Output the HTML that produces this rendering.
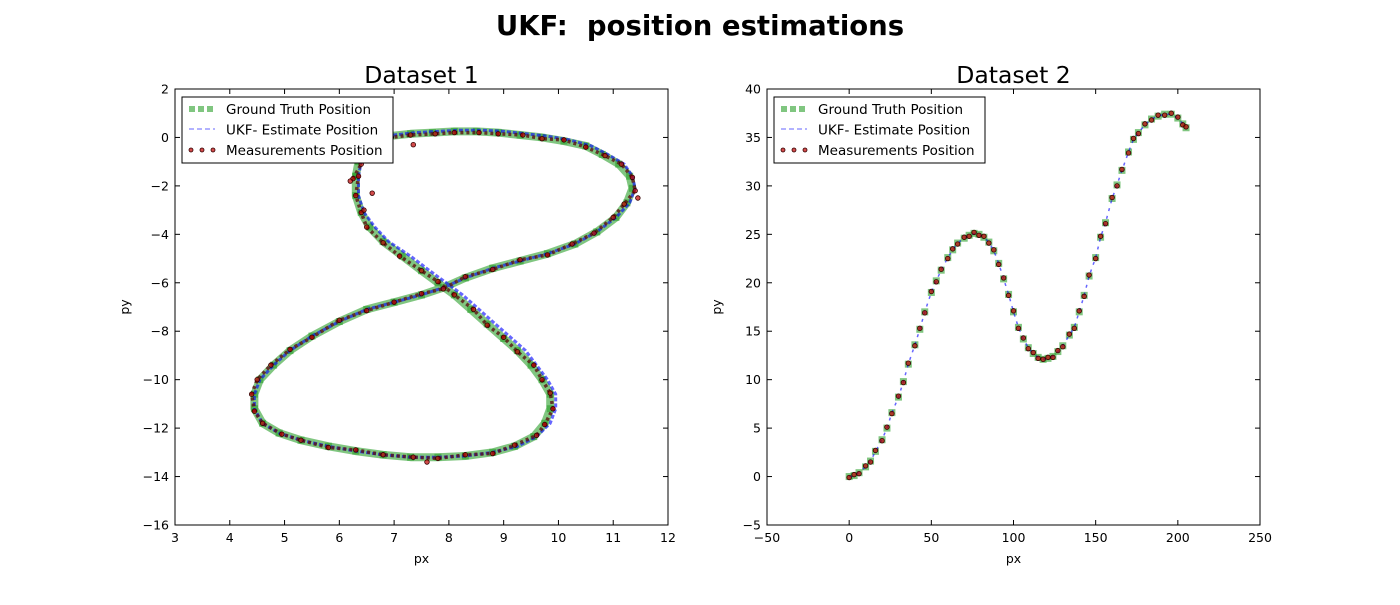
<!DOCTYPE html>
<html><head><meta charset="utf-8"><style>
body{margin:0;background:#fff;}
svg text{font-family:"DejaVu Sans","Liberation Sans",sans-serif;}
</style></head><body>
<svg id="fig" width="1400" height="600" xmlns="http://www.w3.org/2000/svg">
<rect width="1400" height="600" fill="#fff"/>
<text x="700" y="35" text-anchor="middle" font-size="27.5" font-weight="bold" style="white-space:pre">UKF:&#160; position estimations</text>
<g id="p1"></g>
<g id="p2"></g>
</svg>
<script>
const gt1 = [[6.3,-1.6],[6.35,-1.0],[6.45,-0.5],[6.6,-0.15],[6.9,0.05],[7.3,0.15],[7.7,0.2],[8.1,0.25],[8.5,0.25],[8.9,0.2],[9.3,0.1],[9.7,0.0],[10.1,-0.15],[10.5,-0.35],[10.8,-0.7],[11.1,-1.1],[11.3,-1.6],[11.35,-2.1],[11.25,-2.7],[11.05,-3.3],[10.7,-3.9],[10.3,-4.4],[9.8,-4.8],[9.3,-5.1],[8.8,-5.4],[8.3,-5.8],[7.9,-6.2],[7.5,-6.5],[7.0,-6.8],[6.5,-7.1],[6.0,-7.6],[5.5,-8.2],[5.1,-8.8],[4.8,-9.4],[4.55,-10.0],[4.45,-10.6],[4.45,-11.2],[4.6,-11.8],[4.9,-12.2],[5.3,-12.5],[5.8,-12.75],[6.3,-12.95],[6.8,-13.1],[7.3,-13.2],[7.8,-13.2],[8.3,-13.15],[8.8,-13.0],[9.2,-12.75],[9.55,-12.35],[9.75,-11.8],[9.85,-11.2],[9.85,-10.6],[9.7,-10.0],[9.5,-9.4],[9.25,-8.8],[9.0,-8.3],[8.7,-7.7],[8.4,-7.1],[8.1,-6.5],[7.8,-6.0],[7.5,-5.5],[7.15,-4.9],[6.8,-4.3],[6.55,-3.7],[6.4,-3.1],[6.3,-2.4],[6.3,-1.6]];
const ukf1 = [[6.35,-1.6],[6.4,-1.0],[6.5,-0.4],[6.7,-0.05],[7.0,0.1],[7.4,0.2],[7.8,0.25],[8.2,0.3],[8.6,0.3],[9.0,0.25],[9.4,0.15],[9.8,0.05],[10.2,-0.1],[10.6,-0.35],[10.9,-0.7],[11.2,-1.1],[11.35,-1.6],[11.4,-2.1],[11.3,-2.7],[11.05,-3.3],[10.7,-3.9],[10.3,-4.4],[9.8,-4.8],[9.3,-5.1],[8.8,-5.4],[8.3,-5.8],[7.9,-6.2],[7.5,-6.5],[7.0,-6.8],[6.5,-7.1],[6.0,-7.6],[5.5,-8.2],[5.1,-8.8],[4.8,-9.4],[4.55,-10.0],[4.45,-10.6],[4.45,-11.2],[4.6,-11.8],[4.9,-12.2],[5.3,-12.5],[5.8,-12.75],[6.3,-12.95],[6.8,-13.1],[7.3,-13.2],[7.8,-13.2],[8.3,-13.15],[8.8,-13.0],[9.25,-12.75],[9.6,-12.35],[9.85,-11.8],[9.95,-11.2],[9.95,-10.6],[9.8,-10.0],[9.6,-9.4],[9.4,-8.8],[9.15,-8.3],[8.85,-7.7],[8.55,-7.1],[8.25,-6.5],[7.95,-6.0],[7.65,-5.5],[7.3,-4.9],[6.9,-4.3],[6.65,-3.7],[6.45,-3.1],[6.35,-2.4],[6.35,-1.6]];
const meas1 = [[6.25,-1.7],[6.4,-1.1],[6.5,-0.45],[6.6,-0.1],[6.95,0.0],[7.3,0.1],[7.75,0.15],[8.1,0.2],[8.55,0.2],[8.9,0.15],[9.35,0.1],[9.7,-0.05],[10.1,-0.1],[10.5,-0.4],[10.85,-0.75],[11.15,-1.1],[11.35,-1.65],[11.4,-2.2],[11.2,-2.75],[11.0,-3.3],[10.65,-3.95],[10.25,-4.4],[9.8,-4.85],[9.3,-5.05],[8.8,-5.45],[8.3,-5.75],[7.9,-6.25],[7.5,-6.45],[7.0,-6.8],[6.5,-7.15],[6.0,-7.55],[5.5,-8.25],[5.1,-8.75],[4.75,-9.4],[4.5,-10.0],[4.4,-10.6],[4.45,-11.3],[4.6,-11.8],[4.95,-12.25],[5.3,-12.5],[5.8,-12.8],[6.3,-12.9],[6.8,-13.1],[7.35,-13.2],[7.8,-13.25],[8.3,-13.1],[8.8,-13.05],[9.2,-12.7],[9.6,-12.3],[9.75,-11.85],[9.9,-11.2],[9.85,-10.55],[9.7,-10.0],[9.55,-9.4],[9.25,-8.85],[9.0,-8.25],[8.7,-7.75],[8.45,-7.1],[8.1,-6.5],[7.8,-5.95],[7.5,-5.5],[7.1,-4.9],[6.8,-4.35],[6.5,-3.7],[6.4,-3.1],[6.3,-2.4],[6.35,-1.6],[6.2,-1.8],[6.6,-2.3],[6.45,-3.0],[7.35,-0.3],[11.45,-2.5],[7.6,-13.4]];
const gt2 = [[0,0],[3,0.1],[6,0.4],[10,1],[13,1.6],[16,2.6],[20,3.8],[23,5],[26,6.6],[30,8.2],[33,9.8],[36,11.6],[40,13.6],[43,15.2],[46,17],[50,19],[53,20.2],[56,21.3],[60,22.6],[63,23.4],[66,24.1],[70,24.6],[73,24.9],[76,25.1],[79,25],[82,24.7],[85,24.2],[88,23.3],[91,22],[94,20.4],[97,18.8],[100,17],[103,15.4],[106,14.2],[109,13.3],[112,12.7],[115,12.3],[118,12.1],[121,12.2],[124,12.4],[127,12.9],[130,13.5],[134,14.6],[137,15.4],[140,17],[143,18.7],[146,20.7],[150,22.6],[153,24.7],[156,26.2],[160,28.7],[163,30.1],[166,31.6],[170,33.5],[173,34.8],[176,35.5],[180,36.3],[184,36.9],[188,37.2],[192,37.4],[196,37.4],[200,37],[203,36.4],[205,36]];
const ukf2 = gt2.map(p=>[p[0],p[1]]);
const meas2 = [[0,-0.1],[3,0.2],[6,0.3],[10,1.1],[13,1.5],[16,2.7],[20,3.7],[23,5.1],[26,6.5],[30,8.3],[33,9.7],[36,11.7],[40,13.5],[43,15.3],[46,16.9],[50,19.1],[53,20.1],[56,21.4],[60,22.5],[63,23.5],[66,24],[70,24.7],[73,24.8],[76,25.2],[79,24.9],[82,24.8],[85,24.1],[88,23.4],[91,21.9],[94,20.5],[97,18.7],[100,17.1],[103,15.3],[106,14.3],[109,13.2],[112,12.8],[115,12.2],[118,12.1],[121,12.3],[124,12.3],[127,13],[130,13.4],[134,14.7],[137,15.3],[140,17.1],[143,18.6],[146,20.8],[150,22.5],[153,24.8],[156,26.1],[160,28.8],[163,30],[166,31.7],[170,33.4],[173,34.9],[176,35.4],[180,36.4],[184,36.8],[188,37.3],[192,37.3],[196,37.5],[200,37.1],[203,36.3],[205,36.1]];
const xt1=[3,4,5,6,7,8,9,10,11,12], yt1=[-16,-14,-12,-10,-8,-6,-4,-2,0,2];
const xt2=[-50,0,50,100,150,200,250], yt2=[-5,0,5,10,15,20,25,30,35,40];
const NS="http://www.w3.org/2000/svg";
function mk(tag,attrs,parent){const e=document.createElementNS(NS,tag);for(const k in attrs)e.setAttribute(k,attrs[k]);parent.appendChild(e);return e;}
const fmt=v=>v<0?'\u2212'+(-v):String(v);
function panel(g,L,R,T,B,x0,x1,y0,y1,xt,yt,title,gt,ukf,meas,dense){
  const sx=v=>L+(v-x0)/(x1-x0)*(R-L), sy=v=>B-(v-y0)/(y1-y0)*(B-T);
  const t=mk('text',{x:(L+R)/2,y:T-6,'text-anchor':'middle','font-size':23.5},g);t.textContent=title;
  
  
  const pts=a=>a.map(p=>sx(p[0]).toFixed(1)+','+sy(p[1]).toFixed(1)).join(' ');
  if(dense){
    const l=mk('polyline',{points:pts(gt),fill:'none',stroke:'#2ca02c','stroke-width':8,'stroke-opacity':0.6,'stroke-linejoin':'round'},g);
    
    
  }
  gt.forEach(p=>{const r=mk('rect',{x:sx(p[0])-3.5,y:sy(p[1])-3.5,width:7,height:7,fill:'#2ca02c','fill-opacity':0.6},g);
    
    });
  const u=mk('polyline',{points:pts(ukf),fill:'none',stroke:'#0000ff','stroke-width':dense?3:1.5,'stroke-opacity':0.6,'stroke-dasharray':dense?'4 2':'3 5'},g);
  
  
  if(dense){
    const d=mk('polyline',{points:pts(meas.slice(0,67)),fill:'none',stroke:'#5a1010','stroke-width':3.5,'stroke-opacity':0.8,'stroke-dasharray':'3 3'},g);
    
    
  }
  meas.forEach(p=>{const c=mk('circle',{cx:sx(p[0]),cy:sy(p[1]),r:2.3,fill:'#c00000',stroke:'#300','stroke-width':0.8,'fill-opacity':0.7},g);
    
    });
  const f=mk('rect',{x:L,y:T,width:R-L,height:B-T,fill:'none',stroke:'#000','stroke-width':1},g);
  
  
  xt.forEach(v=>{const x=sx(v);mk('line',{x1:x,x2:x,y1:B,y2:B-5,stroke:'#000'},g);mk('line',{x1:x,x2:x,y1:T,y2:T+5,stroke:'#000'},g);
    const tx=mk('text',{x:x,y:B+17,'text-anchor':'middle','font-size':12.5},g);tx.textContent=fmt(v);
    
    });
  yt.forEach(v=>{const y=sy(v);mk('line',{x1:L,x2:L+5,y1:y,y2:y,stroke:'#000'},g);mk('line',{x1:R,x2:R-5,y1:y,y2:y,stroke:'#000'},g);
    const ty=mk('text',{x:L-6,y:y+4.5,'text-anchor':'end','font-size':12.5},g);ty.textContent=fmt(v);
    
    });
  const xl=mk('text',{x:(L+R)/2,y:B+38,'text-anchor':'middle','font-size':12.5},g);xl.textContent='px';
  
  
  const yl=mk('text',{x:L-46,y:(T+B)/2,'text-anchor':'middle','font-size':12.5,transform:`rotate(-90 ${L-46} ${(T+B)/2})`},g);yl.textContent='py';
  
  
  const lg=mk('g',{},g);
  
  
  mk('rect',{x:L+7,y:T+8,width:211,height:66,fill:'#fff',stroke:'#000'},lg);
  const lx=L+14;
  [0,9,18].forEach(o=>mk('rect',{x:lx+o,y:T+17,width:6,height:6,fill:'#2ca02c','fill-opacity':0.6},lg));
  mk('line',{x1:lx,x2:lx+26,y1:T+40,y2:T+40,stroke:'#0000ff','stroke-opacity':0.6,'stroke-dasharray':'5 3'},lg);
  [2,13,24].forEach(o=>mk('circle',{cx:lx+o,cy:T+61,r:2,fill:'#c00000',stroke:'#300','stroke-width':0.8,'fill-opacity':0.7},lg));
  ['Ground Truth Position','UKF- Estimate Position','Measurements Position'].forEach((s,i)=>{
    const e=mk('text',{x:lx+37,y:T+25+i*20.5,'font-size':13.5},lg);e.textContent=s;
    
    });
}
panel(document.getElementById('p1'),175,668,89,525,3,12,-16,2,xt1,yt1,'Dataset 1',gt1,ukf1,meas1,true);
panel(document.getElementById('p2'),767,1260,89,525,-50,250,-5,40,xt2,yt2,'Dataset 2',gt2,ukf2,meas2,false);
</script>
</body></html>
